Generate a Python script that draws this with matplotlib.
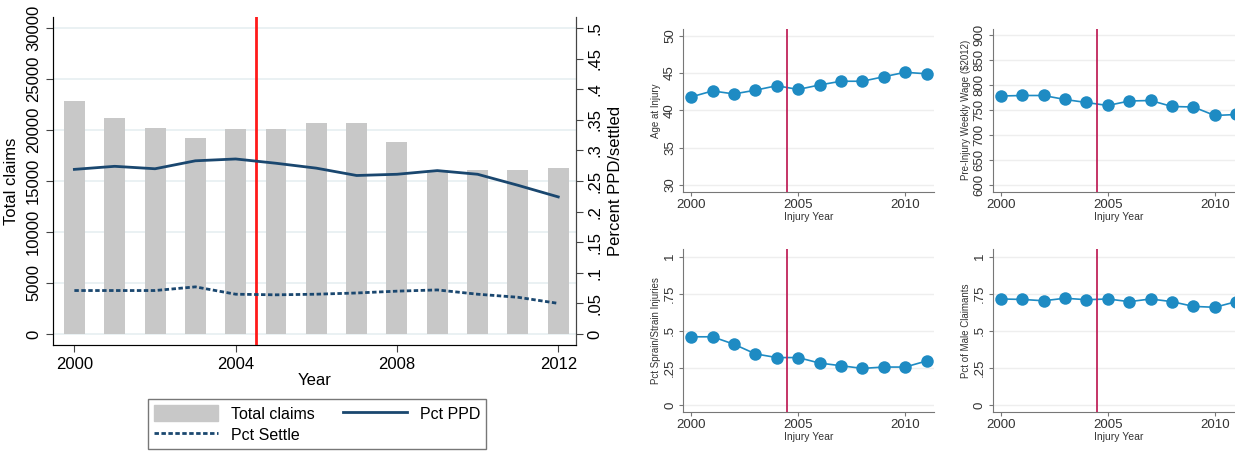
import matplotlib.pyplot as plt
from matplotlib.patches import Patch
from matplotlib.lines import Line2D

plt.rcParams['font.family'] = ['Liberation Sans', 'DejaVu Sans']

# ---------------- left chart data ----------------
years = [2000, 2001, 2002, 2003, 2004, 2005, 2006, 2007, 2008, 2009, 2010, 2011, 2012]
total_claims = [22800, 21200, 20200, 19200, 20100, 20100, 20700, 20700, 18800, 16100, 16100, 16100, 16300]
pct_ppd = [0.269, 0.274, 0.270, 0.283, 0.286, 0.279, 0.271, 0.259, 0.261, 0.267, 0.261, 0.243, 0.224]
pct_settle = [0.071, 0.071, 0.071, 0.077, 0.065, 0.064, 0.065, 0.067, 0.070, 0.072, 0.065, 0.060, 0.050]
left_ticks = [0, 5000, 10000, 15000, 20000, 25000, 30000]
right_ticks = [0, .05, .1, .15, .2, .25, .3, .35, .4, .45, .5]
right_labels = ['0', '.05', '.1', '.15', '.2', '.25', '.3', '.35', '.4', '.45', '.5']

# ---------------- small panels data ----------------
inj_years = [2000, 2001, 2002, 2003, 2004, 2005, 2006, 2007, 2008, 2009, 2010, 2011]
age = [41.8, 42.6, 42.2, 42.7, 43.3, 42.8, 43.4, 43.9, 43.9, 44.5, 45.1, 44.9]
wage = [778, 779, 779, 771, 765, 759, 768, 769, 757, 756, 739, 741]
sprain = [0.46, 0.46, 0.41, 0.345, 0.32, 0.32, 0.283, 0.265, 0.247, 0.256, 0.256, 0.297]
male = [0.715, 0.712, 0.703, 0.72, 0.71, 0.715, 0.697, 0.715, 0.697, 0.665, 0.659, 0.697]

W, H = 1235, 453
fig = plt.figure(figsize=(W / 100, H / 100), dpi=100)


def box(x0, y0, x1, y1):
    # pixel box -> figure fractions
    return [x0 / W, 1 - y1 / H, (x1 - x0) / W, (y1 - y0) / H]


navy = '#1A476F'
ax = fig.add_axes(box(53, 17, 576, 345))
ax.bar(years, total_claims, width=0.52, color='#C8C8C8', zorder=2)
ax.set_xlim(1999.47, 2012.44)
ax.set_ylim(-1080, 31080)
ax.set_yticks(left_ticks)
ax.set_xticks([2000, 2004, 2008, 2012])
ax.yaxis.grid(True, color='#E6EFF1', lw=1.2, zorder=0)
ax.set_axisbelow(True)
ax.spines['top'].set_visible(False)
for s in ['left', 'bottom', 'right']:
    ax.spines[s].set_color('#444444')
ax.tick_params(axis='both', labelsize=12, length=5, color='#444444')
for lab in ax.get_yticklabels():
    lab.set_rotation(90)
    lab.set_va('center')
ax.set_ylabel('Total claims', fontsize=12, labelpad=5)
ax.set_xlabel('Year', fontsize=12, labelpad=1)
ax.axvline(2004.5, color='#FF1A1A', lw=2, zorder=5)

ax2 = ax.twinx()
ax2.plot(years, pct_ppd, color=navy, lw=2, zorder=4)
ax2.plot(years, pct_settle, color=navy, lw=2, linestyle=(0, (1.6, 0.9)), zorder=4)
ax2.set_ylim(-1080 / 60000, 31080 / 60000)
ax2.set_yticks(right_ticks)
ax2.set_yticklabels(right_labels)
ax2.spines['top'].set_visible(False)
ax2.spines['right'].set_color('#444444')
ax2.tick_params(axis='y', labelsize=12, length=5, color='#444444')
for lab in ax2.get_yticklabels():
    lab.set_rotation(90)
    lab.set_va('center')
ax2.set_ylabel('Percent PPD/settled', fontsize=12, labelpad=4)

handles = [Patch(color='#C8C8C8'),
           Line2D([], [], color=navy, lw=2, linestyle=(0, (1.6, 0.9))),
           Line2D([], [], color=navy, lw=2)]
labels = ['Total claims', 'Pct Settle', 'Pct PPD']
leg = fig.legend(handles, labels, ncol=2, loc='center',
                 bbox_to_anchor=(317 / W, 1 - 424 / H), fontsize=11.5,
                 handlelength=4, handleheight=1.2, columnspacing=1.8,
                 fancybox=False, edgecolor='#555555', borderpad=0.35,
                 labelspacing=0.3, handletextpad=0.8)
leg.get_frame().set_linewidth(1)

# ---------------- small panels ----------------
blue = '#1E8BC3'
vred = '#C0245A'
panels = [
    (box(683, 29, 934, 192), age, (29.06, 50.9), [30, 35, 40, 45, 50],
     ['30', '35', '40', '45', '50'], 'Age at Injury'),
    (box(992.7, 29, 1243.7, 191.7), wage, (586.6, 912), [600, 650, 700, 750, 800, 850, 900],
     ['600', '650', '700', '750', '800', '850', '900'], 'Pre-Injury Weekly Wage ($2012)'),
    (box(683, 249, 934, 412), sprain, (-0.047, 1.052), [0, .25, .5, .75, 1],
     ['0', '.25', '.5', '.75', '1'], 'Pct Sprain/Strain Injuries'),
    (box(992.7, 249, 1243.7, 412), male, (-0.047, 1.052), [0, .25, .5, .75, 1],
     ['0', '.25', '.5', '.75', '1'], 'Pct of Male Claimants'),
]
for pos, vals, ylim, yt, ytl, ylab in panels:
    a = fig.add_axes(pos)
    a.plot(inj_years, vals, color=blue, lw=1.2, marker='o', markersize=9,
           markeredgewidth=0, zorder=4)
    a.axvline(2004.5, color=vred, lw=1.3, zorder=5)
    a.set_xlim(1999.62, 2011.35)
    a.set_ylim(*ylim)
    a.set_yticks(yt)
    a.set_yticklabels(ytl)
    a.set_xticks([2000, 2005, 2010])
    a.yaxis.grid(True, color='#EEEEEE', lw=1, zorder=0)
    a.set_axisbelow(True)
    a.spines['top'].set_visible(False)
    a.spines['right'].set_visible(False)
    a.spines['left'].set_color('#777777')
    a.spines['bottom'].set_color('#777777')
    a.tick_params(axis='both', labelsize=9.5, length=3, color='#777777',
                  labelcolor='#333333', pad=2)
    for lab in a.get_yticklabels():
        lab.set_rotation(90)
        lab.set_va('center')
    a.set_ylabel(ylab, fontsize=7, color='#333333', labelpad=2)
    a.set_xlabel('Injury Year', fontsize=7.5, color='#333333', labelpad=1)

fig.savefig('out.png', dpi=100)
